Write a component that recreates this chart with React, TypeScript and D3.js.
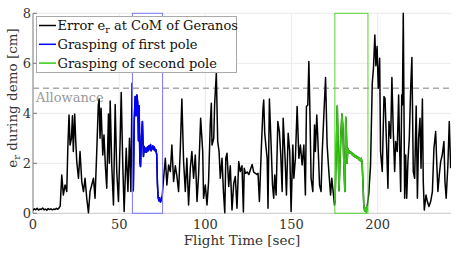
import { scaleLinear, line as d3line } from "d3";

type Pt = [number, number];

// error e_r [cm] vs flight time [sec]
const preGrasp1: Pt[] = [
  [0, 0.12], [0.8, 0.18], [1.6, 0.14], [2.4, 0.2], [3.2, 0.13], [4, 0.17], [4.8, 0.15], [5.6, 0.21],
  [6.4, 0.14], [7.2, 0.17], [8, 0.12], [8.8, 0.19], [9.6, 0.15], [10.4, 0.18], [11.2, 0.14], [12, 0.17],
  [12.8, 0.15], [13.6, 0.2], [14.4, 0.16], [15.2, 0.22], [15.8, 0.3],
  [16.7, 1.53], [17.6, 0.73], [18.6, 1.13], [19.6, 0.87], [20.2, 2.6], [20.9, 3.93], [21.5, 2.73],
  [22.3, 3.0], [22.9, 3.9], [23.4, 2.47], [24.2, 3.97], [24.8, 2.9], [25.4, 2.07], [26.4, 1.4],
  [27.3, 2.47], [28.3, 1.27], [29.3, 0.87], [30.2, 1.4], [31.2, 0.6], [32.2, 0.02], [33.1, 0.87],
  [34.1, 1.13], [35.1, 1.4], [36.0, 0.6], [37.0, 2.47], [37.9, 4.33], [38.4, 4.56], [38.9, 3.0],
  [39.5, 4.2], [40.5, 2.33], [41.2, 3.13], [42.0, 1.9], [42.8, 1.0], [43.8, 3.97], [44.3, 2.0],
  [44.8, 4.49], [45.7, 1.93], [46.7, 0.33], [47.7, 4.35], [48.6, 1.67], [49.6, 0.47], [50.6, 3.0],
  [51.2, 4.83], [52.1, 1.93], [52.9, 0.07], [54.1, 2.6], [55.1, 0.87], [56.0, 3.0], [56.8, 0.87],
  [57.5, 5.2],
];

const grasp1: Pt[] = [
  [57.8, 2.0], [58.2, 0.9], [58.8, 3.8], [59.3, 4.67], [59.8, 3.9], [60.3, 4.73], [60.8, 4.4],
  [61.2, 2.9], [61.6, 4.3], [62.0, 2.1], [62.4, 1.87], [62.9, 3.0], [63.5, 3.67], [64.1, 2.27],
  [64.6, 2.67], [65.0, 2.45], [65.5, 2.6], [65.9, 2.45], [66.4, 2.65], [66.8, 2.5], [67.3, 2.7],
  [67.7, 2.55], [68.2, 2.75], [68.6, 2.5], [69.1, 2.6], [69.5, 2.7], [70.0, 2.55], [70.4, 2.65],
  [70.9, 2.5], [71.3, 2.55], [71.8, 2.35], [72.2, 1.2], [72.6, 0.65], [73.1, 0.5], [73.5, 0.62],
  [74.0, 0.45], [74.5, 0.55], [75.0, 0.7],
];

const betweenGrasps: Pt[] = [
  [75.8, 1.4], [76.8, 2.2], [77.7, 1.13], [78.7, 1.93], [79.7, 1.67], [80.6, 2.73], [81.6, 1.27],
  [82.6, 1.9], [83.5, 1.5], [84.5, 0.87], [85.5, 2.6], [86.4, 4.57], [87.4, 2.07], [88.4, 0.87],
  [89.3, 2.2], [90.3, 0.33], [91.3, 1.8], [92.2, 2.47], [93.2, 1.4], [94.2, 2.33], [95.2, 0.47],
  [96.1, 1.53], [97.3, 3.8], [98.5, 2.47], [99.0, 0.6], [100.0, 1.13], [101.0, 0.33], [101.9, 1.27],
  [102.9, 3.6], [103.5, 4.4], [103.9, 2.73], [104.9, 3.0], [105.4, 4.33], [106.4, 5.6], [107.2, 2.87],
  [108.0, 2.47], [108.7, 1.4], [109.7, 2.2], [110.5, 0.9], [111.3, 0.02], [111.9, 2.2], [112.6, 2.4],
  [113.6, 1.07], [114.5, 1.9], [115.5, 0.13], [116.5, 1.2], [117.4, 1.47], [118.4, 0.2], [119.4, 2.07],
  [120.3, 1.67], [121.3, 1.9], [122.1, 0.05], [122.6, 1.8], [123.3, 1.6], [124.3, 1.65], [125.3, 1.55],
  [126.2, 1.75], [127.2, 1.95], [128.1, 1.65], [129.1, 1.6], [130.1, 1.55], [130.6, 1.6], [131.4, 0.47],
  [132.6, 2.73], [133.5, 4.2], [133.9, 4.53], [134.5, 3.2], [135.3, 2.6], [135.9, 2.2], [136.4, 0.2],
  [137.2, 4.57], [138.2, 2.73], [139.0, 1.13], [139.7, 0.6], [140.3, 1.53], [141.1, 0.73], [142.1, 3.67],
  [143.0, 3.27], [143.8, 2.33], [144.6, 0.87], [145.2, 3.8], [146.3, 2.2], [147.1, 0.73], [148.1, 3.2],
  [149.0, 2.47], [149.8, 0.07], [150.8, 2.73], [151.4, 1.4], [152.3, 2.2], [153.3, 4.27], [154.3, 2.2],
  [155.2, 2.73], [156.2, 1.93], [157.2, 2.73], [158.1, 0.73], [158.7, 4.27], [159.5, 4.33], [160.1, 6.07],
  [160.6, 4.47], [161.4, 1.4], [162.4, 0.87], [163.4, 3.53], [163.9, 2.47], [164.7, 3.93], [165.3, 3.0],
  [166.3, 1.13], [167.2, 0.87], [167.8, 2.33], [168.8, 3.93], [169.8, 5.43], [170.7, 2.73], [171.7, 1.67],
  [172.7, 0.73], [173.4, 1.4], [174.2, 0.87], [175.0, 0.33],
];

const grasp2: Pt[] = [
  [175.3, 0.5], [175.8, 2.0], [176.6, 4.29], [177.1, 2.5], [177.6, 0.9], [178.0, 1.73], [178.6, 3.0],
  [179.3, 3.97], [179.8, 3.5], [180.4, 2.0], [181.0, 0.87], [181.5, 3.84], [181.9, 3.2], [182.3, 2.0],
  [182.7, 2.6], [183.1, 2.45], [183.5, 2.5], [184.0, 2.4], [184.5, 2.45], [185.0, 2.35], [185.5, 2.4],
  [186.0, 2.3], [186.5, 2.35], [187.0, 2.25], [187.5, 2.3], [188.0, 2.2], [188.5, 2.25], [189.0, 2.15],
  [189.5, 2.2], [190.0, 2.1], [190.5, 2.2], [191.0, 2.05], [191.5, 1.2], [192.0, 0.3], [192.5, 0.1],
  [193.0, 0.2], [193.5, 0.05], [194.0, 0.3],
];

const postGrasp2: Pt[] = [
  [194.9, 0.8], [195.9, 1.9], [196.9, 5.2], [197.6, 5.8], [198.4, 7.13], [199.0, 5.9], [199.7, 6.67],
  [200.4, 5.0], [201.2, 6.2], [201.7, 2.47], [202.7, 1.67], [203.7, 4.67], [204.3, 4.6], [205.2, 2.73],
  [206.0, 1.0], [206.6, 3.67], [207.6, 3.0], [208.3, 5.43], [209.1, 3.27], [209.9, 1.67], [210.5, 2.87],
  [211.4, 2.47], [212.2, 4.73], [212.8, 2.6], [213.4, 0.87], [214.0, 4.73], [214.4, 4.33], [214.9, 8.0],
  [215.7, 0.6], [216.3, 2.33], [216.9, 0.6], [217.6, 2.07], [218.4, 3.0], [219.2, 5.0], [219.9, 6.23],
  [220.7, 1.67], [221.5, 1.4], [222.4, 4.29], [223.1, 0.6], [223.8, 3.0], [224.6, 3.8], [225.2, 1.8],
  [226.0, 4.57], [226.5, 1.27], [227.1, 0.13], [228.1, 0.73], [228.9, 0.47], [229.8, 0.27], [230.8, 0.47],
  [231.8, 0.87], [232.7, 2.6], [233.7, 3.27], [234.3, 2.07], [235.0, 0.87], [235.8, 1.53], [236.6, 2.07],
  [237.5, 2.33], [238.5, 2.87], [239.1, 1.27], [239.8, 0.6], [240.8, 1.93], [241.6, 3.67], [242.4, 1.8],
];

const grasp1Window = [57.7, 75.2];
const grasp2Window = [175.2, 194.4];
const allowance = 5;
const xTicks = [0, 50, 100, 150, 200];
const yTicks = [0, 2, 4, 6, 8];

const font = "'DejaVu Serif', 'Liberation Serif', serif";
const BLUE = "#0000ff";
const GREEN = "#33cc11";

export default function App() {
  const x = scaleLinear().domain([0, 242.6]).range([33, 451]);
  const y = scaleLinear().domain([0, 8]).range([213.3, 13.3]);

  const line = d3line<Pt>()
    .x((d) => x(d[0]))
    .y((d) => y(d[1]));

  const full = [...preGrasp1, ...grasp1, ...betweenGrasps, ...grasp2, ...postGrasp2];

  const legend = [
    { label: "err", color: "#000" },
    { label: "Grasping of first pole", color: BLUE },
    { label: "Grasping of second pole", color: GREEN },
  ];

  return (
    <svg
      width={461}
      height={254}
      style={{ position: "absolute", left: 0, top: 0, background: "#fff", fontFamily: font }}
    >
      <defs>
        <clipPath id="plot">
          <rect x={33} y={12} width={418} height={202} />
        </clipPath>
      </defs>

      {/* grid */}
      {xTicks.slice(1).map((t) => (
        <line key={"gx" + t} x1={x(t)} x2={x(t)} y1={y(0)} y2={y(8)} stroke="#ebebeb" />
      ))}
      {yTicks.slice(1).map((t) => (
        <line key={"gy" + t} x1={x(0)} x2={451} y1={y(t)} y2={y(t)} stroke="#ebebeb" />
      ))}

      {/* axes */}
      <line x1={x(0)} x2={451} y1={y(0)} y2={y(0)} stroke="#c8c8c8" />
      <line x1={x(0)} x2={x(0)} y1={y(0)} y2={y(8)} stroke="#777" />
      {yTicks.map((t) => (
        <line key={"ty" + t} x1={x(0)} x2={x(0) + 4} y1={y(t)} y2={y(t)} stroke="#777" />
      ))}
      {xTicks.map((t) => (
        <text key={"lx" + t} x={x(t)} y={229} textAnchor="middle" fontSize={13} fill="#333">
          {t}
        </text>
      ))}
      {yTicks.map((t) => (
        <text key={"ly" + t} x={31} y={y(t) + 4.5} textAnchor="end" fontSize={13} fill="#333">
          {t}
        </text>
      ))}

      {/* allowance */}
      <line
        x1={x(0)}
        x2={451}
        y1={y(allowance)}
        y2={y(allowance)}
        stroke="#aaa"
        strokeWidth={1.5}
        strokeDasharray="6 4"
      />
      <text x={36} y={102} fontSize={13} fill="#999">
        Allowance
      </text>

      {/* series */}
      <g clipPath="url(#plot)">
        <path d={line(full) ?? ""} fill="none" stroke="#000" strokeWidth={1.5} strokeLinejoin="round" />
        <path d={line(grasp1) ?? ""} fill="none" stroke={BLUE} strokeWidth={1.5} strokeLinejoin="round" />
        <path d={line(grasp2) ?? ""} fill="none" stroke={GREEN} strokeWidth={1.5} strokeLinejoin="round" />
      </g>

      {/* grasp windows */}
      <rect
        x={x(grasp1Window[0])}
        y={y(8)}
        width={x(grasp1Window[1]) - x(grasp1Window[0])}
        height={y(0) - y(8)}
        fill="none"
        stroke="#7a7aff"
      />
      <rect
        x={x(grasp2Window[0])}
        y={y(8)}
        width={x(grasp2Window[1]) - x(grasp2Window[0])}
        height={y(0) - y(8)}
        fill="none"
        stroke="#55d633"
      />

      {/* legend */}
      <rect x={36.5} y={16.5} width={200} height={56} fill="#fff" stroke="#aaa" />
      {legend.map((d, i) => {
        const ly = 25.5 + i * 18.8;
        return (
          <g key={d.label}>
            <line x1={39} x2={56} y1={ly} y2={ly} stroke={d.color} strokeWidth={1.5} />
            <text x={57.5} y={ly + 4.5} fontSize={13} fill="#111">
              {i === 0 ? (
                <>
                  Error e
                  <tspan fontSize={9.5} dy={2.5}>r</tspan>
                  <tspan dy={-2.5}> at CoM of Geranos</tspan>
                </>
              ) : (
                d.label
              )}
            </text>
          </g>
        );
      })}

      {/* axis titles */}
      <text x={242} y={245} textAnchor="middle" fontSize={13.5} fill="#333">
        Flight Time [sec]
      </text>
      <text
        transform="translate(17,98) rotate(-90)"
        textAnchor="middle"
        fontSize={13.5}
        fill="#333"
      >
        e<tspan fontSize={10} dy={2.5}>r</tspan>
        <tspan dy={-2.5}> during demo [cm]</tspan>
      </text>
    </svg>
  );
}
